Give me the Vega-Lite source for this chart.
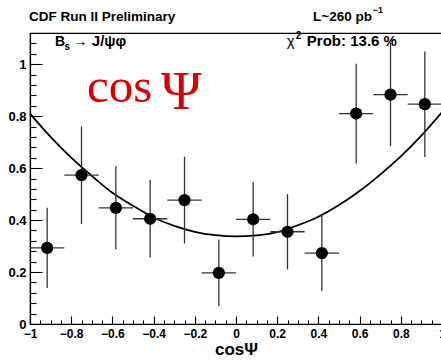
{
  "$schema": "https://vega.github.io/schema/vega-lite/v6.json",
  "width": 412,
  "height": 291,
  "autosize": "none",
  "padding": {"left": 30, "top": 33, "right": 0, "bottom": 38},
  "background": "white",
  "config": {
    "view": {"stroke": "black", "strokeWidth": 1.2},
    "font": "Liberation Sans",
    "axis": {"grid": false, "domainColor": "black", "tickColor": "black", "labelColor": "black", "titleColor": "black", "domainWidth": 1.2, "tickWidth": 1.1}
  },
  "datasets": {
    "pts": [
      {"x": -0.9167, "xlo": -1.0, "xhi": -0.8333, "y": 0.293, "ylo": 0.139, "yhi": 0.447},
      {"x": -0.75, "xlo": -0.8333, "xhi": -0.6667, "y": 0.573, "ylo": 0.385, "yhi": 0.761},
      {"x": -0.5833, "xlo": -0.6667, "xhi": -0.5, "y": 0.447, "ylo": 0.287, "yhi": 0.607},
      {"x": -0.4167, "xlo": -0.5, "xhi": -0.3333, "y": 0.405, "ylo": 0.256, "yhi": 0.554},
      {"x": -0.25, "xlo": -0.3333, "xhi": -0.1667, "y": 0.477, "ylo": 0.31, "yhi": 0.644},
      {"x": -0.0833, "xlo": -0.1667, "xhi": 0.0, "y": 0.197, "ylo": 0.069, "yhi": 0.325},
      {"x": 0.0833, "xlo": 0.0, "xhi": 0.1667, "y": 0.403, "ylo": 0.26, "yhi": 0.546},
      {"x": 0.25, "xlo": 0.1667, "xhi": 0.3333, "y": 0.355, "ylo": 0.21, "yhi": 0.5},
      {"x": 0.4167, "xlo": 0.3333, "xhi": 0.5, "y": 0.273, "ylo": 0.127, "yhi": 0.419},
      {"x": 0.5833, "xlo": 0.5, "xhi": 0.6667, "y": 0.81, "ylo": 0.618, "yhi": 1.002},
      {"x": 0.75, "xlo": 0.6667, "xhi": 0.8333, "y": 0.883, "ylo": 0.684, "yhi": 1.082},
      {"x": 0.9167, "xlo": 0.8333, "xhi": 1.0, "y": 0.846, "ylo": 0.643, "yhi": 1.049}
    ],
    "fit": [
      {"x": -1.0, "f": 0.81}, {"x": -0.9, "f": 0.72}, {"x": -0.8, "f": 0.64},
      {"x": -0.7, "f": 0.57}, {"x": -0.6, "f": 0.505}, {"x": -0.5, "f": 0.455},
      {"x": -0.4, "f": 0.41}, {"x": -0.3, "f": 0.378}, {"x": -0.2, "f": 0.355},
      {"x": -0.1, "f": 0.342}, {"x": 0.0, "f": 0.337}, {"x": 0.1, "f": 0.341},
      {"x": 0.2, "f": 0.354}, {"x": 0.3, "f": 0.38}, {"x": 0.4, "f": 0.413},
      {"x": 0.5, "f": 0.458}, {"x": 0.6, "f": 0.512}, {"x": 0.7, "f": 0.575},
      {"x": 0.8, "f": 0.645}, {"x": 0.9, "f": 0.725}, {"x": 1.0, "f": 0.815}
    ]
  },
  "resolve": {"axis": {"x": "independent", "y": "independent"}},
  "layer": [
    {
      "data": {"name": "fit"},
      "mark": {"type": "line", "color": "black", "strokeWidth": 1.8, "interpolate": "monotone"},
      "encoding": {
        "x": {"field": "x", "type": "quantitative", "scale": {"domain": [-1, 1], "nice": false, "zero": false},
          "axis": {"orient": "bottom", "values": [-1, -0.8, -0.6, -0.4, -0.2, 0, 0.2, 0.4, 0.6, 0.8, 1], "format": "~g", "tickSize": -8, "labelFontSize": 12, "labelFontWeight": "bold", "labelPadding": 12, "labelFlush": false, "labelOverlap": false,
            "title": "cosΨ", "titleFontSize": 17, "titleFontWeight": "bold", "titlePadding": 2}},
        "y": {"field": "f", "type": "quantitative", "scale": {"domain": [0, 1.12], "nice": false},
          "axis": {"orient": "left", "values": [0, 0.2, 0.4, 0.6, 0.8, 1], "format": "~g", "tickSize": -12, "labelFontSize": 13, "labelFontWeight": "bold", "labelPadding": 16, "labelFlush": false, "labelOverlap": false, "title": null}}
      }
    },
    {
      "data": {"name": "pts"},
      "mark": {"type": "rule", "color": "#333333", "strokeWidth": 1.3},
      "encoding": {
        "x": {"field": "x", "type": "quantitative",
          "axis": {"orient": "bottom", "values": [-0.95, -0.9, -0.85, -0.75, -0.7, -0.65, -0.55, -0.5, -0.45, -0.35, -0.3, -0.25, -0.15, -0.1, -0.05, 0.05, 0.1, 0.15, 0.25, 0.3, 0.35, 0.45, 0.5, 0.55, 0.65, 0.7, 0.75, 0.85, 0.9, 0.95], "tickSize": -4, "labels": false, "domain": false, "title": null}},
        "y": {"field": "ylo", "type": "quantitative",
          "axis": {"orient": "left", "values": [0.04, 0.08, 0.12, 0.16, 0.24, 0.28, 0.32, 0.36, 0.44, 0.48, 0.52, 0.56, 0.64, 0.68, 0.72, 0.76, 0.84, 0.88, 0.92, 0.96, 1.04, 1.08], "tickSize": -6, "labels": false, "domain": false, "title": null}},
        "y2": {"field": "yhi"}
      }
    },
    {
      "data": {"name": "pts"},
      "mark": {"type": "rule", "color": "#333333", "strokeWidth": 1.3},
      "encoding": {
        "x": {"field": "xlo", "type": "quantitative", "axis": null},
        "x2": {"field": "xhi"},
        "y": {"field": "y", "type": "quantitative", "axis": null}
      }
    },
    {
      "data": {"name": "pts"},
      "mark": {"type": "point", "filled": true, "color": "black", "opacity": 1, "size": 150},
      "encoding": {
        "x": {"field": "x", "type": "quantitative", "axis": null},
        "y": {"field": "y", "type": "quantitative", "axis": null}
      }
    },
    {
      "data": {"values": [{"t": "CDF Run II Preliminary"}]},
      "mark": {"type": "text", "align": "left", "baseline": "alphabetic", "fontSize": 13.5, "fontWeight": "bold", "color": "black"},
      "encoding": {"x": {"datum": -1.005, "type": "quantitative", "axis": null}, "y": {"datum": 1.168, "type": "quantitative", "axis": null}, "text": {"field": "t"}}
    },
    {
      "data": {"values": [{"t": "L~260 pb"}]},
      "mark": {"type": "text", "align": "left", "baseline": "alphabetic", "fontSize": 13.5, "fontWeight": "bold", "color": "black"},
      "encoding": {"x": {"datum": 0.374, "type": "quantitative", "axis": null}, "y": {"datum": 1.168, "type": "quantitative", "axis": null}, "text": {"field": "t"}}
    },
    {
      "data": {"values": [{"t": "−1"}]},
      "mark": {"type": "text", "align": "left", "baseline": "alphabetic", "fontSize": 9, "fontWeight": "bold", "color": "black"},
      "encoding": {"x": {"datum": 0.664, "type": "quantitative", "axis": null}, "y": {"datum": 1.196, "type": "quantitative", "axis": null}, "text": {"field": "t"}}
    },
    {
      "data": {"values": [{"t": "B"}]},
      "mark": {"type": "text", "align": "left", "baseline": "alphabetic", "fontSize": 14, "fontWeight": "bold", "color": "black"},
      "encoding": {"x": {"datum": -0.879, "type": "quantitative", "axis": null}, "y": {"datum": 1.071, "type": "quantitative", "axis": null}, "text": {"field": "t"}}
    },
    {
      "data": {"values": [{"t": "s"}]},
      "mark": {"type": "text", "align": "left", "baseline": "alphabetic", "fontSize": 10, "fontWeight": "bold", "color": "black"},
      "encoding": {"x": {"datum": -0.833, "type": "quantitative", "axis": null}, "y": {"datum": 1.055, "type": "quantitative", "axis": null}, "text": {"field": "t"}}
    },
    {
      "data": {"values": [{"t": "→ J/ψφ"}]},
      "mark": {"type": "text", "align": "left", "baseline": "alphabetic", "fontSize": 15, "fontWeight": "bold", "color": "black"},
      "encoding": {"x": {"datum": -0.793, "type": "quantitative", "axis": null}, "y": {"datum": 1.071, "type": "quantitative", "axis": null}, "text": {"field": "t"}}
    },
    {
      "data": {"values": [{"t": "χ"}]},
      "mark": {"type": "text", "align": "left", "baseline": "alphabetic", "fontSize": 15, "color": "black"},
      "encoding": {"x": {"datum": 0.246, "type": "quantitative", "axis": null}, "y": {"datum": 1.071, "type": "quantitative", "axis": null}, "text": {"field": "t"}}
    },
    {
      "data": {"values": [{"t": "2"}]},
      "mark": {"type": "text", "align": "left", "baseline": "alphabetic", "fontSize": 10, "fontWeight": "bold", "color": "black"},
      "encoding": {"x": {"datum": 0.29, "type": "quantitative", "axis": null}, "y": {"datum": 1.095, "type": "quantitative", "axis": null}, "text": {"field": "t"}}
    },
    {
      "data": {"values": [{"t": "Prob: 13.6 %"}]},
      "mark": {"type": "text", "align": "left", "baseline": "alphabetic", "fontSize": 15, "fontWeight": "bold", "color": "black"},
      "encoding": {"x": {"datum": 0.344, "type": "quantitative", "axis": null}, "y": {"datum": 1.071, "type": "quantitative", "axis": null}, "text": {"field": "t"}}
    },
    {
      "data": {"values": [{"t": "cos"}]},
      "mark": {"type": "text", "align": "left", "baseline": "alphabetic", "fontSize": 49, "font": "Liberation Serif", "color": "#d40000"},
      "encoding": {"x": {"datum": -0.723, "type": "quantitative", "axis": null}, "y": {"datum": 0.854, "type": "quantitative", "axis": null}, "text": {"field": "t"}}
    },
    {
      "data": {"values": [{"t": "Ψ"}]},
      "mark": {"type": "text", "align": "left", "baseline": "alphabetic", "fontSize": 55, "font": "Liberation Serif", "color": "#d40000"},
      "encoding": {"x": {"datum": -0.364, "type": "quantitative", "axis": null}, "y": {"datum": 0.829, "type": "quantitative", "axis": null}, "text": {"field": "t"}}
    }
  ]
}
